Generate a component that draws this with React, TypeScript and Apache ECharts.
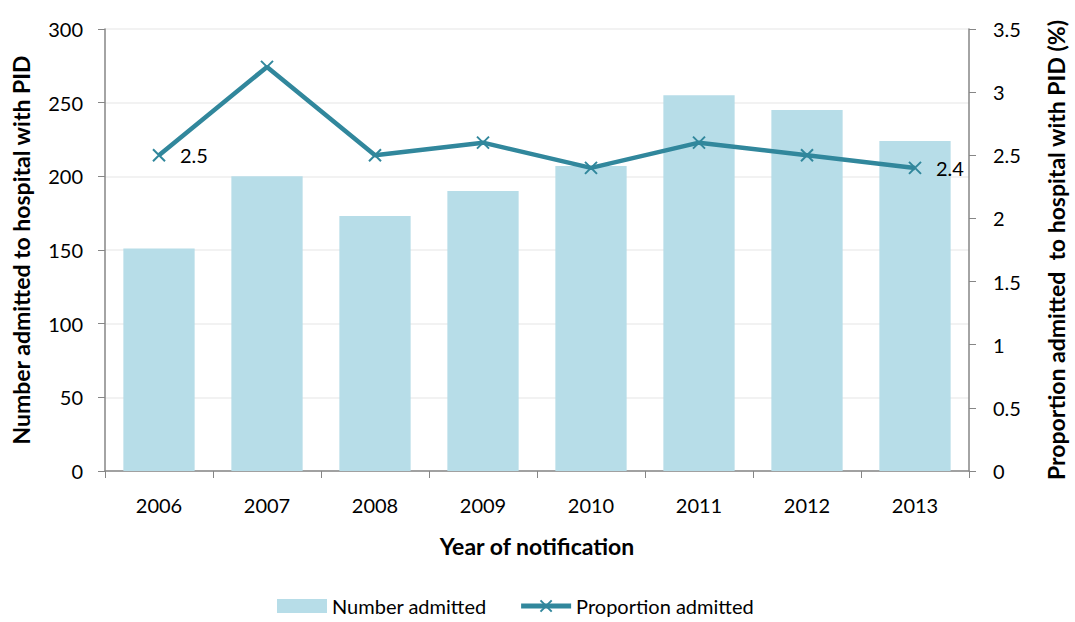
import React, { useEffect, useRef } from "react";
import * as echarts from "echarts";

const years = ["2006", "2007", "2008", "2009", "2010", "2011", "2012", "2013"];
const numberAdmitted = [151, 200, 173, 190, 207, 255, 245, 224];
const proportionAdmitted = [2.5, 3.2, 2.5, 2.6, 2.4, 2.6, 2.5, 2.4];
const labelledPoints = [0, 7];

const FONT = "Lato, 'Open Sans', sans-serif";
const LINE_COLOR = "#31879C";
const BAR_COLOR = "#B7DDE8";
const CROSS = "path://M0,0L10,10M10,0L0,10";

export default function App() {
  const ref = useRef<HTMLDivElement>(null);
  useEffect(() => {
    if (!ref.current) return;
    const chart = echarts.init(ref.current, undefined, { renderer: "svg" });
    chart.setOption({
      animation: false,
      textStyle: { fontFamily: FONT },
      grid: { left: 105, right: 95, top: 29, bottom: 151, containLabel: false },
      legend: {
        top: 591,
        left: 272,
        itemGap: 32,
        itemWidth: 50,
        itemHeight: 14,
        textStyle: { fontSize: 20, color: "#000", fontFamily: FONT },
        data: [
          { name: "Number admitted", icon: "rect" },
          { name: "Proportion admitted", lineStyle: { width: 5, color: LINE_COLOR } },
        ],
      },
      xAxis: {
        type: "category",
        data: years,
        name: "Year of notification",
        nameLocation: "middle",
        nameGap: 63,
        nameTextStyle: { fontSize: 23, fontWeight: "bold", color: "#000" },
        axisLine: { lineStyle: { color: "#868686", width: 1.5 } },
        axisTick: { show: true, length: 7, lineStyle: { color: "#868686" } },
        axisLabel: { fontSize: 20, color: "#000", margin: 24 },
      },
      yAxis: [
        {
          type: "value",
          min: 0,
          max: 300,
          interval: 50,
          name: "Number admitted to hospital with PID",
          nameLocation: "middle",
          nameGap: 73,
          nameTextStyle: { fontSize: 23, fontWeight: "bold", color: "#000" },
          axisLine: { show: true, lineStyle: { color: "#868686", width: 1.5 } },
          axisTick: { show: true, length: 7, lineStyle: { color: "#868686" } },
          axisLabel: { fontSize: 20, color: "#000", margin: 22 },
          splitLine: { lineStyle: { color: "#EEEEEE", width: 1.5 } },
        },
        {
          type: "value",
          min: 0,
          max: 3.5,
          interval: 0.5,
          position: "right",
          name: "Proportion admitted  to hospital with PID (%)",
          nameLocation: "middle",
          nameGap: 75,
          nameRotate: 90,
          nameTextStyle: { fontSize: 23, fontWeight: "bold", color: "#000" },
          axisLine: { show: true, lineStyle: { color: "#868686", width: 1.5 } },
          axisTick: { show: true, length: 7, lineStyle: { color: "#868686" } },
          axisLabel: { fontSize: 20, color: "#000", margin: 24 },
          splitLine: { show: false },
        },
      ],
      series: [
        {
          name: "Number admitted",
          type: "bar",
          yAxisIndex: 0,
          data: numberAdmitted,
          barCategoryGap: "34%",
          itemStyle: { color: BAR_COLOR },
        },
        {
          name: "Proportion admitted",
          type: "line",
          yAxisIndex: 1,
          data: proportionAdmitted.map((v, i) =>
            labelledPoints.includes(i)
              ? {
                  value: v,
                  label: {
                    show: true,
                    position: "right",
                    distance: 14,
                    fontSize: 20,
                    color: "#000",
                    fontFamily: FONT,
                  },
                }
              : v
          ),
          symbol: CROSS,
          symbolSize: 12,
          showAllSymbol: true,
          lineStyle: { color: LINE_COLOR, width: 4.5 },
          itemStyle: { color: LINE_COLOR, borderColor: LINE_COLOR, borderWidth: 2 },
        },
      ],
    });
    return () => chart.dispose();
  }, []);
  return (
    <div
      ref={ref}
      style={{ position: "fixed", left: 0, top: 0, width: 1075, height: 622, background: "#fff" }}
    />
  );
}
